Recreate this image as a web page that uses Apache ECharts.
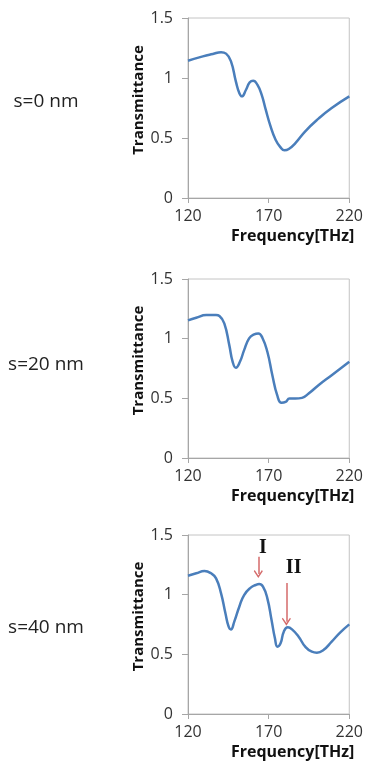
<!DOCTYPE html>
<html>
<head>
<meta charset="utf-8">
<script src="https://cdn.jsdelivr.net/npm/echarts@6/dist/echarts.min.js"></script>
<style>
  html, body { margin: 0; padding: 0; background: #fff; }
  #chart { width: 366px; height: 763px; }
</style>
</head>
<body>
<div id="chart"></div>
<script>
// values (frequency in THz, transmittance)
const freq0 = [120, 129.2, 135.4, 140.5, 143.6, 146.6, 149.7, 151.8, 153.4, 155.9, 158.3, 160.4, 163, 165.7, 168.2, 171.2, 174.3, 177.4, 179.8, 182.5, 186.6, 192.7, 200.9, 209.1, 220];
const trans0 = [1.144, 1.18, 1.2, 1.215, 1.203, 1.14, 0.97, 0.875, 0.847, 0.9, 0.964, 0.978, 0.944, 0.86, 0.736, 0.597, 0.486, 0.422, 0.397, 0.408, 0.458, 0.556, 0.661, 0.75, 0.847];

const freq20 = [120, 125.1, 131.3, 137.4, 139.5, 142.5, 145.6, 147.7, 149.7, 152.2, 154.8, 157.9, 161, 163.6, 166.1, 169.2, 172.3, 175.3, 178, 180.5, 182.9, 186.6, 190.7, 194.8, 200.9, 209.1, 220];
const trans20 = [1.153, 1.175, 1.198, 1.198, 1.19, 1.128, 0.946, 0.806, 0.756, 0.806, 0.904, 1.002, 1.036, 1.044, 1.008, 0.89, 0.694, 0.526, 0.462, 0.47, 0.498, 0.498, 0.504, 0.54, 0.61, 0.694, 0.806];

const freq40 = [120, 125.1, 130.2, 134.3, 137.4, 140.5, 143.2, 145.2, 146.6, 148.7, 151.8, 154.8, 158.9, 162, 164.1, 166.5, 169.2, 171.8, 173.9, 175.5, 177.4, 179.4, 181.9, 184.5, 188.6, 192.7, 196.8, 199.9, 204, 209.1, 214.3, 220];
const trans40 = [1.159, 1.179, 1.198, 1.179, 1.137, 1.011, 0.844, 0.732, 0.709, 0.774, 0.899, 0.997, 1.059, 1.081, 1.089, 1.067, 0.969, 0.788, 0.634, 0.564, 0.592, 0.69, 0.726, 0.709, 0.648, 0.564, 0.522, 0.514, 0.536, 0.606, 0.682, 0.751];

const panelLabels = ['s=0 nm', 's=20 nm', 's=40 nm'];
const xTicks = [120, 170, 220];

// arrow annotations on the s=40 nm panel: [freq, from, to] and label [freq, value]
const arrowI = [163.6, 1.318, 1.173];
const arrowII = [181, 1.098, 0.774];
const labelI = [166.5, 1.39];
const labelII = [185.5, 1.224];

const lineColor = '#4a7ebb';
const arrowColor = '#d46a6a';
const axisGray = '#a6a6a6';
const font = "'Open Sans', 'Noto Sans', sans-serif";

const grids = [
  { left: 188, top: 18, width: 163, height: 180 },
  { left: 188, top: 279, width: 163, height: 179 },
  { left: 188, top: 535, width: 163, height: 179 }
];
const labelCenters = [102, 365, 628];

function pairs(xs, ys) {
  return xs.map((x, i) => [x, ys[i]]);
}

const chart = echarts.init(document.getElementById('chart'), null, { renderer: 'canvas' });

const option = {
  animation: false,
  backgroundColor: '#fff',
  grid: grids.map(g => ({ ...g, show: true, borderColor: '#c4c4c4', borderWidth: 1, containLabel: false })),
  xAxis: grids.map((g, i) => ({
    gridIndex: i,
    type: 'value',
    min: 120,
    max: 220,
    name: 'Frequency[THz]',
    nameLocation: 'middle',
    nameGap: 30,
    nameTextStyle: { fontFamily: font, fontWeight: 'bold', fontSize: 16, color: '#111', padding: [0, 0, 0, 48] },
    axisLine: { show: true, lineStyle: { color: axisGray, width: 1 } },
    axisTick: { show: true, length: 5, lineStyle: { color: axisGray }, customValues: xTicks },
    axisLabel: { fontFamily: font, fontSize: 16, color: '#333', margin: 10, customValues: xTicks },
    splitLine: { show: false }
  })),
  yAxis: grids.map((g, i) => ({
    gridIndex: i,
    type: 'value',
    min: 0,
    max: 1.5,
    interval: 0.5,
    name: 'Transmittance',
    nameLocation: 'middle',
    nameGap: 40,
    nameTextStyle: { fontFamily: font, fontWeight: 'bold', fontSize: 15, color: '#111', padding: [0, 0, 0, 16] },
    axisLine: { show: true, lineStyle: { color: axisGray, width: 1 } },
    axisTick: { show: true, length: 6, lineStyle: { color: axisGray } },
    axisLabel: { fontFamily: font, fontSize: 16, color: '#333', margin: 15 },
    splitLine: { show: false }
  })),
  series: [
    [freq0, trans0],
    [freq20, trans20],
    [freq40, trans40]
  ].map(([xs, ys], i) => {
    const s = {
      type: 'line',
      xAxisIndex: i,
      yAxisIndex: i,
      data: pairs(xs, ys),
      smooth: 0.5,
      showSymbol: false,
      lineStyle: { color: lineColor, width: 2.5 },
      itemStyle: { color: lineColor }
    };
    if (i === 2) {
      s.markLine = {
        silent: true,
        symbol: ['none', 'path://M5,0 L10,7 L9,8.2 L5,2.6 L1,8.2 L0,7 Z'],
        symbolSize: [9, 8],
        label: { show: false },
        lineStyle: { color: arrowColor, width: 1.5, type: 'solid' },
        data: [
          [{ coord: [arrowI[0], arrowI[1]] }, { coord: [arrowI[0], arrowI[2]] }],
          [{ coord: [arrowII[0], arrowII[1]] }, { coord: [arrowII[0], arrowII[2]] }]
        ]
      };
      s.markPoint = {
        silent: true,
        symbol: 'circle',
        symbolSize: 0,
        label: {
          show: true,
          position: 'inside',
          fontFamily: "'Liberation Serif', 'DejaVu Serif', serif",
          fontWeight: 'bold',
          fontSize: 20,
          color: '#111',
          formatter: p => p.name
        },
        data: [
          { name: 'I', coord: labelI },
          { name: 'II', coord: labelII }
        ]
      };
    }
    return s;
  }),
  graphic: panelLabels.map((t, i) => ({
    type: 'text',
    x: 46,
    y: labelCenters[i],
    style: { text: t, fontFamily: font, fontSize: 19, fill: '#222', align: 'center', verticalAlign: 'middle' }
  }))
};

chart.setOption(option);
</script>
</body>
</html>
